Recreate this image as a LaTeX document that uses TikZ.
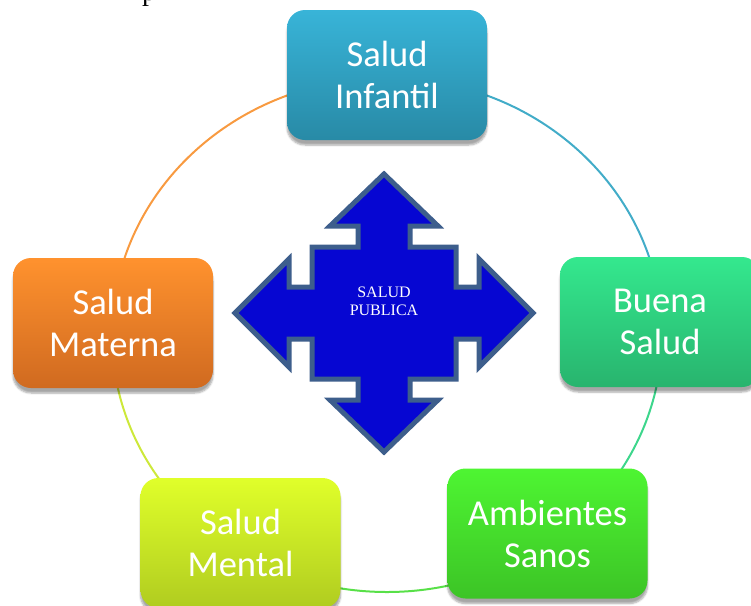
\documentclass[tikz,border=0pt]{standalone}
\usepackage{fontspec}
\setmainfont{Liberation Serif}
\newfontfamily\carlito{Carlito}
\usetikzlibrary{shadows.blur,calc}
\definecolor{infT}{RGB}{56,180,216}
\definecolor{infB}{RGB}{40,138,166}
\definecolor{bueT}{RGB}{52,232,142}
\definecolor{bueB}{RGB}{40,180,110}
\definecolor{ambT}{RGB}{78,245,50}
\definecolor{ambB}{RGB}{60,196,38}
\definecolor{menT}{RGB}{224,255,42}
\definecolor{menB}{RGB}{176,204,32}
\definecolor{matT}{RGB}{255,146,46}
\definecolor{matB}{RGB}{208,106,32}
\definecolor{arcBlue}{RGB}{66,172,200}
\definecolor{arcTeal}{RGB}{61,214,140}
\definecolor{arcGreen}{RGB}{88,224,72}
\definecolor{arcYel}{RGB}{205,232,58}
\definecolor{arcOra}{RGB}{248,154,64}
\definecolor{qFill}{RGB}{6,6,210}
\definecolor{qLine}{RGB}{61,94,140}
\begin{document}
\begin{tikzpicture}[x=1pt,y=-1pt,
  box/.style={rounded corners=18pt, minimum width=200pt, minimum height=130pt,
    inner sep=0pt, text=white, align=center,
    font=\carlito\fontsize{36.5}{42}\selectfont,
    blur shadow={shadow xshift=0pt, shadow yshift=-5pt, shadow opacity=35, shadow blur steps=6}},
  link/.style={line width=2pt},
  qarrow/.style={fill=qFill, draw=qLine, line width=5pt, line join=miter}]
\useasboundingbox (0,0) rectangle (751,605);

\node[anchor=base west, inner sep=0pt, font=\fontsize{28}{28}\selectfont] (pfrag) at (142,0) {p};

% positions (centres)
\coordinate (ctr) at (387,335);
\coordinate (cInf) at (387,75);
\coordinate (cBue) at (660,322);
\coordinate (cAmb) at (547.5,533.5);
\coordinate (cMen) at (240.5,543);
\coordinate (cMat) at (113,323);

% cycle arcs: one ellipse, coloured by sector between neighbouring boxes
\foreach \a/\b/\c in {cInf/cBue/arcBlue, cBue/cAmb/arcTeal, cAmb/cMen/arcGreen,
                      cMen/cMat/arcYel, cMat/cInf/arcOra} {
  \begin{scope}
    \clip (ctr) -- ($(ctr)!4!(\a)$) -- ($(ctr)!4!(\b)$) -- cycle;
    \draw[link, \c] (ctr) ellipse [x radius=275, y radius=257];
  \end{scope}
}

% central quad arrow
\begin{scope}[shift={(384,313)}]
\draw[qarrow] (0,-139) -- (54,-87) -- (26,-87) -- (26,-66) -- (72,-66) -- (72,-26)
  -- (95,-26) -- (95,-54) -- (149,0) -- (95,54) -- (95,26) -- (72,26) -- (72,66)
  -- (26,66) -- (26,87) -- (54,87) -- (0,139) -- (-54,87) -- (-26,87) -- (-26,66)
  -- (-72,66) -- (-72,26) -- (-95,26) -- (-95,54) -- (-149,0) -- (-95,-54)
  -- (-95,-26) -- (-72,-26) -- (-72,-66) -- (-26,-66) -- (-26,-87) -- (-54,-87) -- cycle;
\end{scope}
\node[text=white, align=center, inner sep=0pt, font=\fontsize{16}{18}\selectfont] (sp) at (384,301) {SALUD\\PUBLICA};

% boxes
\node[box, top color=infT, bottom color=infB] (inf) at (cInf) {Salud\\Infantil};
\node[box, top color=bueT, bottom color=bueB] (bue) at (cBue) {Buena\\Salud};
\node[box, top color=ambT, bottom color=ambB] (amb) at (cAmb) {Ambientes\\Sanos};
\node[box, top color=menT, bottom color=menB] (men) at (cMen) {Salud\\Mental};
\node[box, top color=matT, bottom color=matB] (mat) at (cMat) {Salud\\Materna};
\end{tikzpicture}
\end{document}
